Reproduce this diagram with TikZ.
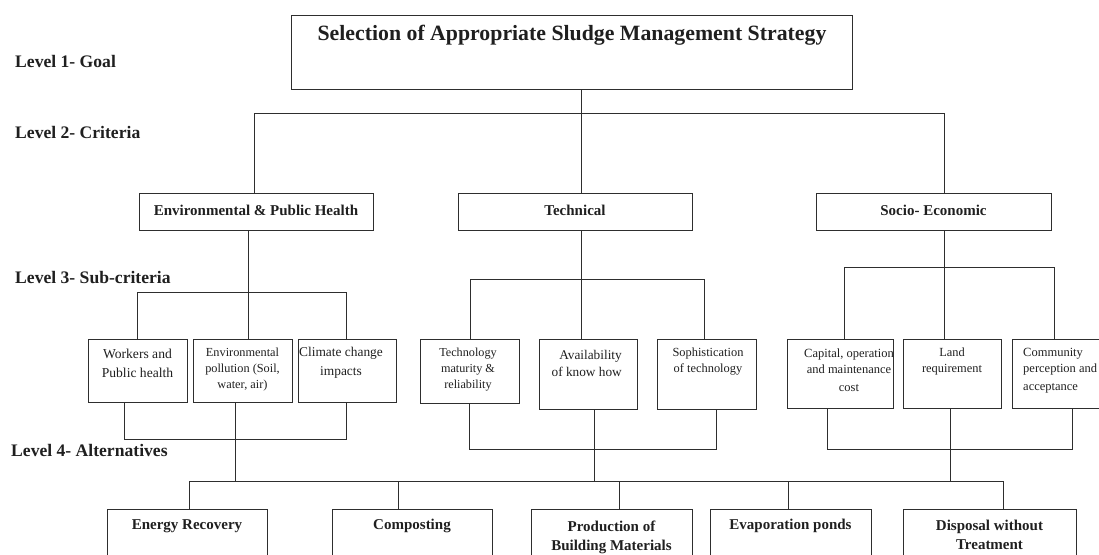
\documentclass[tikz,border=0pt]{standalone}
\usepackage{fontspec}
\setmainfont{Liberation Serif}
% box from corner (x1,y1) to corner (x2,y2), in pixel units
\newcommand\mkbox[5]{\node[box, minimum width={(#4)-(#2)}, minimum height={(#5)-(#3)}] (#1) at ({((#2)+(#4))/2},{((#3)+(#5))/2}) {};}
\begin{document}
\begin{tikzpicture}[x=1pt,y=-1pt,
  box/.style={draw=black!82, line width=0.95pt, rectangle, inner sep=0pt},
  wire/.style={draw=black!82, line width=0.95pt},
  txt/.style={inner sep=0pt, text=black!88},
  lvl/.style={txt, anchor=west, font=\fontsize{17.6}{20}\selectfont\bfseries},
  crit/.style={txt, font=\fontsize{15}{18}\selectfont\bfseries},
  alt/.style={txt, align=center, font=\fontsize{15}{19}\selectfont\bfseries}]
\path[use as bounding box] (0,0) rectangle (1099,554);
\clip (0,0) rectangle (1099,554);

% level labels
\node[lvl] (l1) at (15,61) {Level 1- Goal};
\node[lvl] (l2) at (15,132) {Level 2- Criteria};
\node[lvl] (l3) at (15,277) {Level 3- Sub-criteria};
\node[lvl] (l4) at (11,450) {Level 4- Alternatives};

% goal
\mkbox{goal}{291}{15}{852}{89}
\node[txt, font=\fontsize{21.8}{24}\selectfont\bfseries] (goaltxt) at (572,35) {Selection of Appropriate Sludge Management Strategy};

% criteria
\mkbox{env}{139}{193}{373}{230}
\mkbox{tech}{458}{193}{692}{230}
\mkbox{socio}{816}{193}{1051}{230}
\node[crit] (envtxt) at (256,210) {Environmental \& Public Health};
\node[crit] (techtxt) at (575,210) {Technical};
\node[crit] (sociotxt) at (933.5,210) {Socio- Economic};

% sub-criteria
\mkbox{workers}{88}{339}{187}{402}
\mkbox{envpol}{193}{339}{292}{402}
\mkbox{climate}{298}{339}{396}{402}
\mkbox{techmat}{420}{339}{519}{403}
\mkbox{avail}{539}{339}{637}{409}
\mkbox{soph}{657}{339}{756}{409}
\mkbox{capital}{787}{339}{893}{408}
\mkbox{land}{903}{339}{1001}{408}
\mkbox{community}{1012}{339}{1120}{408}

\node[txt, align=center, font=\fontsize{13.6}{19}\selectfont] (workerstxt) at (137.5,363) {Workers and\\Public health};
\node[txt, align=center, font=\fontsize{12.3}{16}\selectfont] (envpoltxt) at (242.5,369.5) {Environmental\\pollution (Soil,\\water, air)};
\node[txt, align=center, font=\fontsize{13.4}{19}\selectfont] (climatetxt) at (341,363) {Climate change\\impacts};
\node[txt, align=center, font=\fontsize{12.2}{16}\selectfont] (techmattxt) at (468,369.5) {Technology\\maturity \&\\reliability};
\node[txt, align=right, anchor=east, font=\fontsize{13.3}{17}\selectfont] (availtxt) at (622,363) {Availability\\of know how};
\node[txt, align=center, font=\fontsize{12.4}{16}\selectfont] (sophtxt) at (708,361.5) {Sophistication\\of technology};
\node[txt, align=center, font=\fontsize{12.5}{16}\selectfont] (capitaltxt) at (849,370.5) {Capital, operation\\and maintenance\\[2pt]cost};
\node[txt, align=center, font=\fontsize{12.4}{16}\selectfont] (landtxt) at (952,361.5) {Land\\requirement};
\node[txt, align=left, anchor=west, font=\fontsize{12.5}{16}\selectfont] (communitytxt) at (1023,370.5) {Community\\perception and\\[2pt]acceptance};

% alternatives
\mkbox{energy}{107}{509}{267}{600}
\mkbox{compost}{332}{509}{492}{600}
\mkbox{prod}{531}{509}{692}{600}
\mkbox{evap}{710}{509}{871}{600}
\mkbox{disposal}{903}{509}{1076}{600}
\node[alt] (energytxt) at (187,526) {Energy Recovery};
\node[alt] (composttxt) at (412,526) {Composting};
\node[alt] (prodtxt) at (611.5,537.5) {Production of\\Building Materials};
\node[alt] (evaptxt) at (790.5,526) {Evaporation ponds};
\node[alt] (disposaltxt) at (989.5,534.5) {Disposal without\\Treatment};

% goal to criteria
\coordinate (gstem) at (581,0);
\coordinate (cL) at (254,113);
\coordinate (cR) at (944,113);
\draw[wire] (goal.south -| gstem) -- (tech.north -| gstem);
\draw[wire] (env.north -| cL) |- (cR) -- (socio.north -| cR);

% environmental & public health branch
\coordinate (eS) at (248,0);
\coordinate (eL) at (137,292);
\coordinate (eR) at (346,292);
\draw[wire] (env.south -| eS) -- (envpol.north -| eS);
\draw[wire] (workers.north -| eL) |- (eR) -- (climate.north -| eR);
\coordinate (ebL) at (124,439);
\coordinate (ebR) at (346,439);
\draw[wire] (workers.south -| ebL) |- (ebR) -- (climate.south -| ebR);

% technical branch
\coordinate (tL) at (470,279);
\coordinate (tR) at (704,279);
\draw[wire] (tech.south -| gstem) -- (avail.north -| gstem);
\draw[wire] (techmat.north -| tL) |- (tR) -- (soph.north -| tR);
\coordinate (tbL) at (469,449);
\coordinate (tbR) at (716,449);
\draw[wire] (techmat.south -| tbL) |- (tbR) -- (soph.south -| tbR);

% socio-economic branch
\coordinate (sS) at (944,0);
\coordinate (sL) at (844,267);
\coordinate (sR) at (1054,267);
\draw[wire] (socio.south -| sS) -- (land.north -| sS);
\draw[wire] (capital.north -| sL) |- (sR) -- (community.north -| sR);
\coordinate (sbL) at (827,449);
\coordinate (sbR) at (1072,449);
\draw[wire] (capital.south -| sbL) |- (sbR) -- (community.south -| sbR);

% alternatives bar
\coordinate (aL) at (189,481);
\coordinate (aR) at (1003,481);
\coordinate (aC) at (398,481);
\coordinate (aP) at (619,481);
\coordinate (aE) at (788,481);
\draw[wire] (energy.north -| aL) |- (aR) -- (disposal.north -| aR);
\draw[wire] (aC) -- (compost.north -| aC);
\draw[wire] (aP) -- (prod.north -| aP);
\draw[wire] (aE) -- (evap.north -| aE);

% sub-criteria down to the alternatives
\coordinate (eD) at (235,0);
\coordinate (tD) at (594,0);
\coordinate (sD) at (950,0);
\draw[wire] (envpol.south -| eD) -- (aL -| eD);
\draw[wire] (avail.south -| tD) -- (aL -| tD);
\draw[wire] (land.south -| sD) -- (aL -| sD);
\end{tikzpicture}
\end{document}
